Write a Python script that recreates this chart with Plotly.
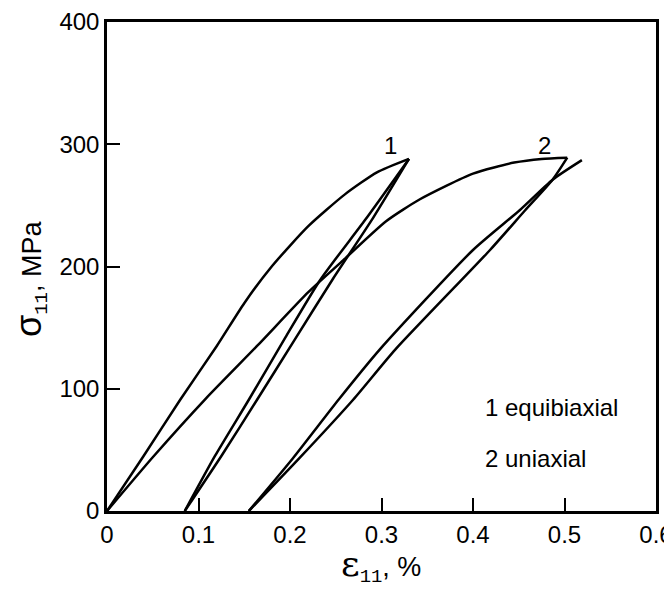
import plotly.graph_objects as go

# Curve 1 (equibiaxial): loading, unloading, reloading
c1_load_x = [0.0, 0.04, 0.08, 0.12, 0.15, 0.18, 0.22, 0.26, 0.295, 0.330]
c1_load_y = [0, 45, 91, 135, 170, 200, 233, 259, 277, 288]
c1_unload_x = [0.330, 0.291, 0.247, 0.205, 0.164, 0.125, 0.085]
c1_unload_y = [288, 240, 190, 140, 91, 45, 0]
c1_reload_x = [0.085, 0.118, 0.155, 0.195, 0.233, 0.282, 0.330]
c1_reload_y = [0, 45, 91, 142, 189, 238, 288]

# Curve 2 (uniaxial): loading, unloading, reloading
c2_load_x = [0.0, 0.05, 0.108, 0.164, 0.22, 0.258, 0.305, 0.342, 0.40, 0.445, 0.475, 0.503]
c2_load_y = [0, 44, 92, 135, 179, 205, 237, 255, 276, 285, 288, 289]
c2_unload_x = [0.503, 0.487, 0.457, 0.4186, 0.315, 0.269, 0.210, 0.155]
c2_unload_y = [289, 271, 246, 213.5, 132, 91, 43, 0]
c2_reload_x = [0.155, 0.203, 0.253, 0.298, 0.400, 0.451, 0.487, 0.519]
c2_reload_y = [0, 43, 91, 132, 213.5, 246, 271, 287]

x_ticks = [0, 0.1, 0.2, 0.3, 0.4, 0.5, 0.6]
x_tick_text = ["0", "0.1", "0.2", "0.3", "0.4", "0.5", "0.6"]
y_ticks = [0, 100, 200, 300, 400]
y_tick_text = ["0", "100", "200", "300", "400"]

FONT = "Liberation Sans, Arial, Helvetica, sans-serif"
line = dict(color="black", width=2.5, shape="spline", smoothing=0.6)

fig = go.Figure()
for xs, ys in [(c1_load_x, c1_load_y), (c1_unload_x, c1_unload_y), (c1_reload_x, c1_reload_y),
               (c2_load_x, c2_load_y), (c2_unload_x, c2_unload_y), (c2_reload_x, c2_reload_y)]:
    fig.add_trace(go.Scatter(x=xs, y=ys, mode="lines", line=line, showlegend=False, hoverinfo="skip"))

# page is offset by the 8px body margin -> figure 664x592
fig.update_layout(
    width=664, height=592,
    margin=dict(l=99, r=16, t=14, b=89, autoexpand=False),
    paper_bgcolor="white", plot_bgcolor="white",
    font=dict(family=FONT, size=24, color="black"),
    showlegend=False,
)
fig.update_xaxes(range=[0, 0.6], tickvals=x_ticks, ticktext=x_tick_text,
                 ticks="inside", ticklen=13, tickwidth=1.5, tickcolor="black",
                 showline=True, linecolor="black", linewidth=2.5, mirror=True,
                 showgrid=False, zeroline=False, tickfont=dict(size=24), automargin=False,
                 ticklabeloverflow="allow")
fig.update_yaxes(range=[0, 400], tickvals=y_ticks, ticktext=y_tick_text,
                 ticks="inside", ticklen=13, tickwidth=1.5, tickcolor="black",
                 showline=True, linecolor="black", linewidth=2.5, mirror=True,
                 showgrid=False, zeroline=False, tickfont=dict(size=24), automargin=False,
                 ticklabeloverflow="allow")

PW, PH = 549, 489
ann = [
    dict(x=0.310, y=299, xref="x", yref="y", text="1", showarrow=False, font=dict(size=24)),
    dict(x=0.478, y=299, xref="x", yref="y", text="2", showarrow=False, font=dict(size=24)),
    dict(x=0.411, y=85, xref="x", yref="y", text="1 equibiaxial", showarrow=False,
         xanchor="left", yanchor="middle", font=dict(size=24)),
    dict(x=0.411, y=43, xref="x", yref="y", text="2 uniaxial", showarrow=False,
         xanchor="left", yanchor="middle", font=dict(size=24)),
    dict(x=(381 - 107) / PW, y=(511 - 565) / PH, xref="paper", yref="paper",
         xanchor="center", yanchor="middle",
         text="<span style='font-family:DejaVu Serif;font-size:36px'>ε</span><sub><span style='font-family:Liberation Mono'>11</span></sub>, %",
         showarrow=False, font=dict(size=27)),
    dict(x=(30 - 107) / PW, y=(511 - 279) / PH, xref="paper", yref="paper",
         xanchor="center", yanchor="middle",
         text="<span style='font-size:36px'>σ</span><sub><span style='font-family:Liberation Mono'>11</span></sub>, MPa",
         showarrow=False, textangle=-90, font=dict(size=27)),
]
fig.update_layout(annotations=ann)

fig.write_html("out.html")
